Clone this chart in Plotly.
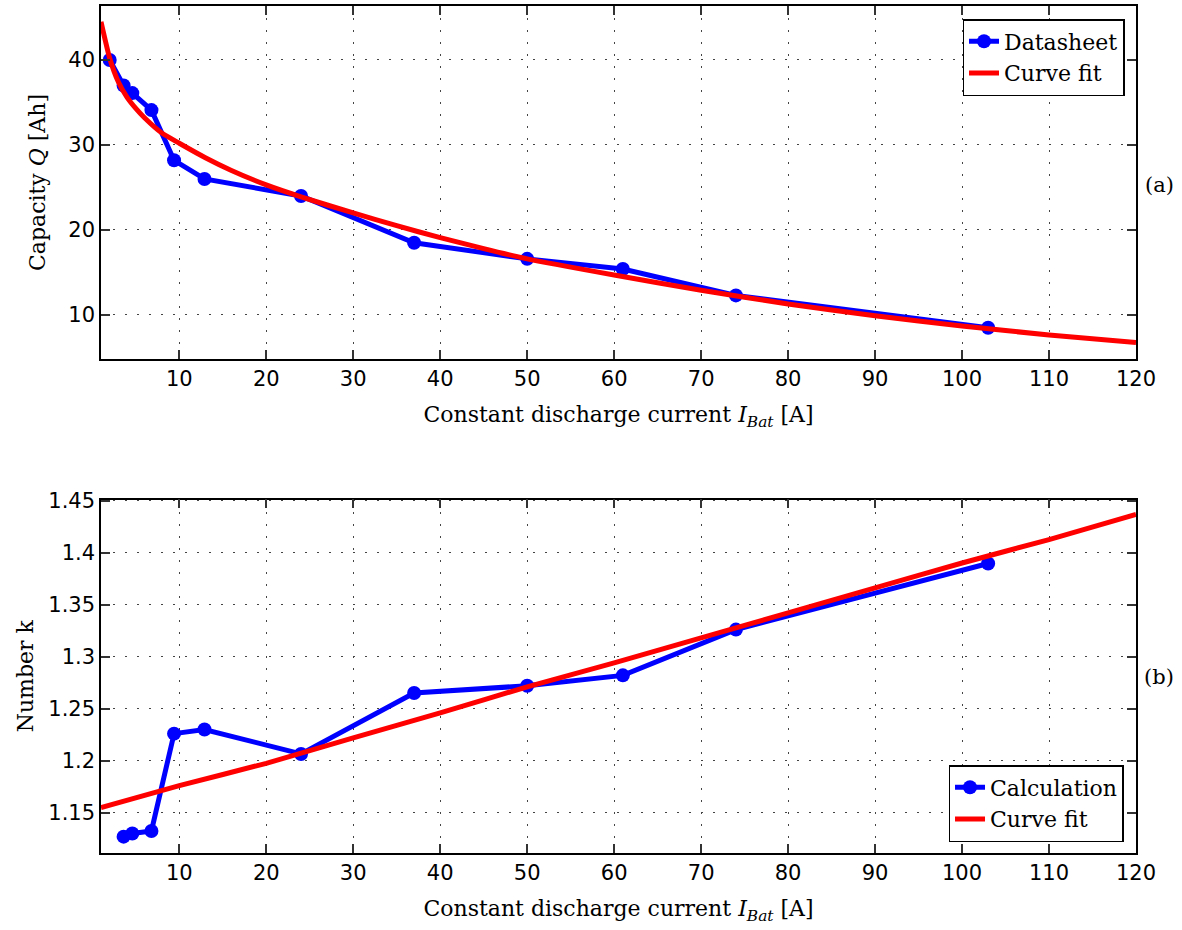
import plotly.graph_objects as go

# ---------------- data ----------------
current_ds = [2, 3.6, 4.6, 6.8, 9.4, 12.9, 24, 37, 50, 61, 74, 103]
capacity_ds = [40.0, 37.0, 36.1, 34.1, 28.2, 26.0, 24.0, 18.5, 16.6, 15.4, 12.3, 8.5]

current_fit_q = [1, 2, 3, 4, 5, 6, 8, 10, 13, 16, 20, 24, 30, 35, 40, 45, 50, 60, 70, 80, 90, 100, 110, 120]
capacity_fit = [44.5, 40.2, 37.4, 35.6, 34.3, 33.2, 31.4, 30.2, 28.5, 27.0, 25.3, 23.9, 22.0, 20.5, 19.1, 17.8, 16.6,
                14.7, 12.9, 11.3, 9.9, 8.7, 7.65, 6.75]

current_k = [3.6, 4.6, 6.8, 9.4, 12.9, 24, 37, 50, 61, 74, 103]
k_calc = [1.127, 1.130, 1.1325, 1.226, 1.230, 1.2065, 1.265, 1.272, 1.282, 1.326, 1.3895]

current_fit_k = [1, 10, 20, 30, 40, 50, 60, 70, 80, 90, 100, 110, 120]
k_fit = [1.155, 1.176, 1.1975, 1.222, 1.246, 1.271, 1.294, 1.318, 1.342, 1.366, 1.390, 1.4125, 1.4366]

x_ticks = [10, 20, 30, 40, 50, 60, 70, 80, 90, 100, 110, 120]
q_ticks = [10, 20, 30, 40]
k_ticks = [1.15, 1.2, 1.25, 1.3, 1.35, 1.4, 1.45]
k_tick_text = ["1.15", "1.2", "1.25", "1.3", "1.35", "1.4", "1.45"]

# ---------------- layout helpers ----------------
W, H = 1182, 930
L, R, T, B = 100.5, 1136.5, 6, 853  # plot area in px


def px_x(px):
    return (px - L) / (R - L)


def px_y(py):
    return (B - py) / (B - T)


BLUE = "#0000ff"
RED = "#ff0000"
SERIF = "DejaVu Serif, serif"
SANS = "DejaVu Sans, sans-serif"

fig = go.Figure()

fig.add_trace(go.Scatter(x=current_ds, y=capacity_ds, mode="lines+markers", name="Datasheet",
                         line=dict(color=BLUE, width=5), marker=dict(color=BLUE, size=14, symbol="circle"),
                         xaxis="x", yaxis="y", legend="legend"))
fig.add_trace(go.Scatter(x=current_fit_q, y=capacity_fit, mode="lines", name="Curve fit",
                         line=dict(color=RED, width=5, shape="spline", smoothing=0.5),
                         xaxis="x", yaxis="y", legend="legend"))
fig.add_trace(go.Scatter(x=current_k, y=k_calc, mode="lines+markers", name="Calculation",
                         line=dict(color=BLUE, width=5), marker=dict(color=BLUE, size=14, symbol="circle"),
                         xaxis="x2", yaxis="y2", legend="legend2"))
fig.add_trace(go.Scatter(x=current_fit_k, y=k_fit, mode="lines", name="Curve fit",
                         line=dict(color=RED, width=5, shape="spline", smoothing=0.5),
                         xaxis="x2", yaxis="y2", legend="legend2"))

axis_common = dict(
    showline=True, linecolor="black", linewidth=1.5, mirror="ticks",
    ticks="inside", ticklen=9, tickwidth=1.5, tickcolor="#333",
    showgrid=True, gridcolor="#444", gridwidth=1, griddash="2px,10px",
    zeroline=False, tickfont=dict(family=SANS, size=21, color="black"),
    automargin=False,
)

title_font = dict(family=SERIF, size=22, color="black")
xtitle = "Constant discharge current <i>I</i><sub><i>Bat</i></sub> [A]"

fig.update_layout(
    width=W, height=H,
    margin=dict(l=L, r=W - R, t=T, b=H - B, pad=0),
    paper_bgcolor="white", plot_bgcolor="white",
    showlegend=True,
    xaxis=dict(axis_common, domain=[0, 1], range=[1, 120], tickvals=x_ticks, anchor="y",
               title=dict(text=xtitle, font=title_font, standoff=17)),
    yaxis=dict(axis_common, domain=[px_y(359), 1], range=[4.82, 46.35], tickvals=q_ticks, anchor="x",
               title=dict(text="Capacity <i>Q</i> [Ah]", font=title_font, standoff=17)),
    xaxis2=dict(axis_common, domain=[0, 1], range=[1, 120], tickvals=x_ticks, anchor="y2",
                title=dict(text=xtitle, font=title_font, standoff=17)),
    yaxis2=dict(axis_common, domain=[0, px_y(499.5)], range=[1.1113, 1.451], tickvals=k_ticks,
                ticktext=k_tick_text, anchor="x2",
                title=dict(text="Number k", font=title_font, standoff=9)),
    legend=dict(x=px_x(1125), y=px_y(19), xanchor="right", yanchor="top",
                bgcolor="white", bordercolor="black", borderwidth=1.5,
                font=dict(family=SERIF, size=22, color="black"), tracegroupgap=0),
    legend2=dict(x=px_x(1124), y=px_y(842), xanchor="right", yanchor="bottom",
                 bgcolor="white", bordercolor="black", borderwidth=1.5,
                 font=dict(family=SERIF, size=22, color="black"), tracegroupgap=0),
    annotations=[
        dict(text="(a)", x=px_x(1160), y=px_y(185), xref="paper", yref="paper", showarrow=False,
             xanchor="center", yanchor="middle", font=dict(family=SERIF, size=21, color="black")),
        dict(text="(b)", x=px_x(1160), y=px_y(677), xref="paper", yref="paper", showarrow=False,
             xanchor="center", yanchor="middle", font=dict(family=SERIF, size=21, color="black")),
    ],
)

fig.write_html("out.html")
